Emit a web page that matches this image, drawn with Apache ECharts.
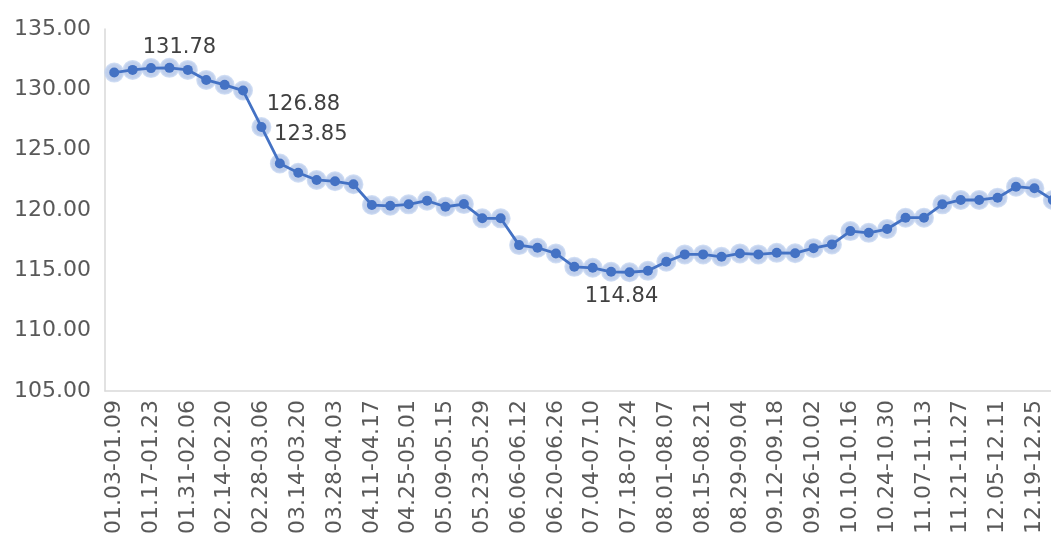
<!DOCTYPE html>
<html>
<head>
<meta charset="utf-8">
<script src="https://cdn.jsdelivr.net/npm/echarts@6/dist/echarts.min.js"></script>
<style>
  html, body { margin: 0; padding: 0; background: #fff; }
  #chart { width: 1051px; height: 544px; }
</style>
</head>
<body>
<div id="chart"></div>
<script>
// weekly periods
var weeks = [
  '01.03-01.09', '01.10-01.16', '01.17-01.23', '01.24-01.30', '01.31-02.06', '02.07-02.13',
  '02.14-02.20', '02.21-02.27', '02.28-03.06', '03.07-03.13', '03.14-03.20', '03.21-03.27',
  '03.28-04.03', '04.04-04.10', '04.11-04.17', '04.18-04.24', '04.25-05.01', '05.02-05.08',
  '05.09-05.15', '05.16-05.22', '05.23-05.29', '05.30-06.05', '06.06-06.12', '06.13-06.19',
  '06.20-06.26', '06.27-07.03', '07.04-07.10', '07.11-07.17', '07.18-07.24', '07.25-07.31',
  '08.01-08.07', '08.08-08.14', '08.15-08.21', '08.22-08.28', '08.29-09.04', '09.05-09.11',
  '09.12-09.18', '09.19-09.25', '09.26-10.02', '10.03-10.09', '10.10-10.16', '10.17-10.23',
  '10.24-10.30', '10.31-11.06', '11.07-11.13', '11.14-11.20', '11.21-11.27', '11.28-12.04',
  '12.05-12.11', '12.12-12.18', '12.19-12.25', '12.26-01.01'
];

var values = [
  131.39, 131.61, 131.76, 131.78, 131.61, 130.78, 130.37, 129.90, 126.88, 123.85,
  123.09, 122.49, 122.38, 122.13, 120.41, 120.35, 120.47, 120.77, 120.27, 120.49,
  119.31, 119.31, 117.09, 116.87, 116.40, 115.29, 115.21, 114.88, 114.84, 114.96,
  115.71, 116.32, 116.32, 116.12, 116.40, 116.32, 116.45, 116.42, 116.84, 117.15,
  118.25, 118.11, 118.42, 119.36, 119.36, 120.47, 120.83, 120.83, 121.02, 121.93,
  121.80, 120.83
];

// which points get a value label, and where it sits
var labelAt = {
  3: { position: 'top', offset: [10, 0] },
  8: { position: 'top', offset: [42, -2] },
  9: { position: 'top', offset: [31, -8] },
  28: { position: 'bottom', offset: [-8, 4] }
};

var yTicks = { min: 105, max: 135, step: 5 };

var font = 'DejaVu Sans';
var blue = '#4472C4';

var lineData = values.map(function (v, i) {
  var item = { value: v };
  if (labelAt[i]) {
    item.label = Object.assign({ show: true }, labelAt[i]);
  }
  return item;
});

var myChart = echarts.init(document.getElementById('chart'));

var option = {
  animation: false,
  backgroundColor: '#fff',
  grid: {
    left: 105,
    top: 29,
    bottom: 153,
    width: 957,   // runs past the right edge, last week is cut off
    outerBoundsMode: 'none',
    containLabel: false
  },
  xAxis: {
    type: 'category',
    data: weeks,
    boundaryGap: true,
    axisLine: { show: true, lineStyle: { color: '#D9D9D9', width: 1.5 } },
    axisTick: { show: false },
    axisLabel: {
      interval: 1,
      rotate: 90,
      margin: 9,
      color: '#595959',
      fontFamily: font,
      fontSize: 22
    },
    splitLine: { show: false }
  },
  yAxis: {
    type: 'value',
    min: yTicks.min,
    max: yTicks.max,
    interval: yTicks.step,
    axisLine: { show: true, lineStyle: { color: '#D9D9D9', width: 1.5 } },
    axisTick: { show: false },
    splitLine: { show: false },
    axisLabel: {
      margin: 14,
      color: '#595959',
      fontFamily: font,
      fontSize: 22,
      formatter: function (v) { return v.toFixed(2); }
    }
  },
  series: [
    {
      // soft halo behind every marker
      type: 'scatter',
      data: values,
      symbol: 'circle',
      symbolSize: 18,
      z: 1,
      silent: true,
      itemStyle: {
        color: 'rgba(143, 170, 220, 0.7)',
        borderColor: 'rgba(196, 213, 240, 1)',
        borderWidth: 2
      }
    },
    {
      type: 'line',
      data: lineData,
      symbol: 'circle',
      symbolSize: 10,
      showAllSymbol: true,
      z: 2,
      lineStyle: { color: blue, width: 2.8 },
      itemStyle: { color: blue },
      label: {
        show: false,
        color: '#404040',
        fontFamily: font,
        fontSize: 21,
        formatter: function (p) { return p.value.toFixed(2); }
      }
    }
  ]
};

option && myChart.setOption(option);
</script>
</body>
</html>
